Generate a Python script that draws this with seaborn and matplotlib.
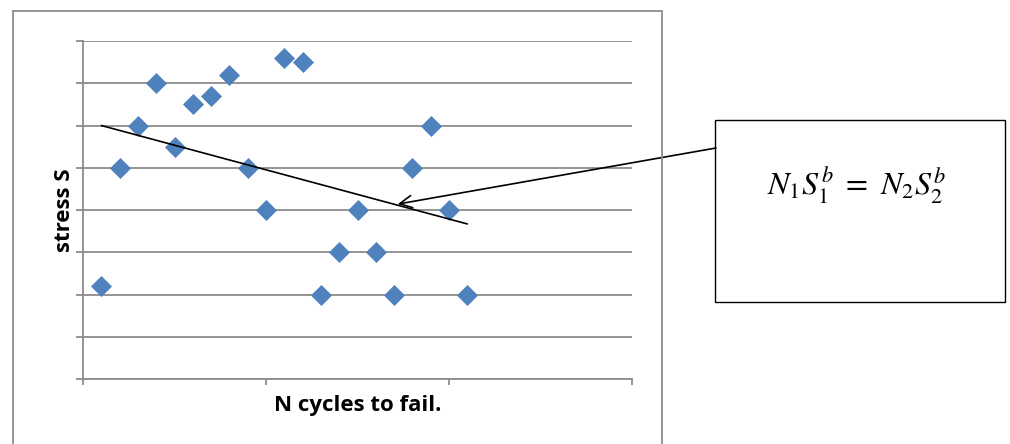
import numpy as np
import pandas as pd
import matplotlib
matplotlib.use("Agg")
import matplotlib.pyplot as plt
import seaborn as sns
from matplotlib.patches import Rectangle

# data
cycles = [1, 2, 3, 4, 5, 6, 7, 8, 9, 10, 11, 12, 13, 14, 15, 16, 17, 18, 19, 20, 21]
stress = [2.2, 5, 6, 7, 5.5, 6.5, 6.7, 7.2, 5, 4, 7.6, 7.5, 2, 3, 4, 3, 2, 5, 6, 4, 2]
trend_x = [1, 21]
trend_y = [6.0, 3.67]
arrow_tip = (17.2, 4.14)

data = pd.DataFrame({"N": cycles, "S": stress})
trend = pd.DataFrame({"N": trend_x, "S": trend_y})

sns.set_style("white")
plt.rcParams['font.family'] = ['Open Sans', 'DejaVu Sans']
plt.rcParams['mathtext.fontset'] = 'stix'

fig = plt.figure(figsize=(10.1, 4.44), dpi=100)
ax = fig.add_axes([83 / 1010, 65 / 444, 549 / 1010, 338 / 444])

sns.scatterplot(x="N", y="S", data=data, ax=ax, marker="D", s=115,
                color="#4F81BD", edgecolor="#4F81BD", linewidth=0, zorder=3)
sns.lineplot(x="N", y="S", data=trend, ax=ax, color="black", linewidth=1.2, zorder=4)

ax.set_xlim(0, 30)
ax.set_ylim(0, 8)
ax.set_xticks([0, 10, 20, 30])
ax.set_yticks(range(0, 9))
ax.set_xticklabels([])
ax.set_yticklabels([])
ax.yaxis.grid(True, color="#8c8c8c", linewidth=1.3)
ax.xaxis.grid(False)
for side in ["top", "right"]:
    ax.spines[side].set_visible(False)
for side in ["left", "bottom"]:
    ax.spines[side].set_color("#8c8c8c")
    ax.spines[side].set_linewidth(1.3)
ax.tick_params(axis="y", direction="out", length=5, color="#8c8c8c", width=1.3, left=True)
ax.tick_params(axis="x", direction="out", length=4, color="#8c8c8c", width=1.3, bottom=True)

ax.set_xlabel("N cycles to fail.", fontsize=16, fontweight="bold", labelpad=4, color="black")
ax.set_ylabel("stress S", fontsize=16, fontweight="bold", labelpad=-3, color="black")

# outer chart frame
fig.patches.append(Rectangle((13 / 1010, -0.05), 649 / 1010, 1.05 - 11 / 444,
                             transform=fig.transFigure, fill=False,
                             edgecolor="#8c8c8c", linewidth=1.3))

# equation box with arrow
fig.patches.append(Rectangle((715 / 1010, (444 - 302) / 444), 290 / 1010, 182 / 444,
                             transform=fig.transFigure, fill=False,
                             edgecolor="black", linewidth=1.0))
fig.text(857 / 1010, (444 - 186) / 444, r"$N_1S_1^b\ =\ N_2S_2^b$",
         fontsize=23, ha="center", va="center", color="black")
ax.annotate("", xy=arrow_tip, xycoords="data",
            xytext=(716 / 1010, (444 - 148) / 444), textcoords="figure fraction",
            arrowprops=dict(arrowstyle="->", color="black", lw=1.2,
                            mutation_scale=22, shrinkA=0, shrinkB=0),
            annotation_clip=False)

fig.savefig("out.png", dpi=100)
